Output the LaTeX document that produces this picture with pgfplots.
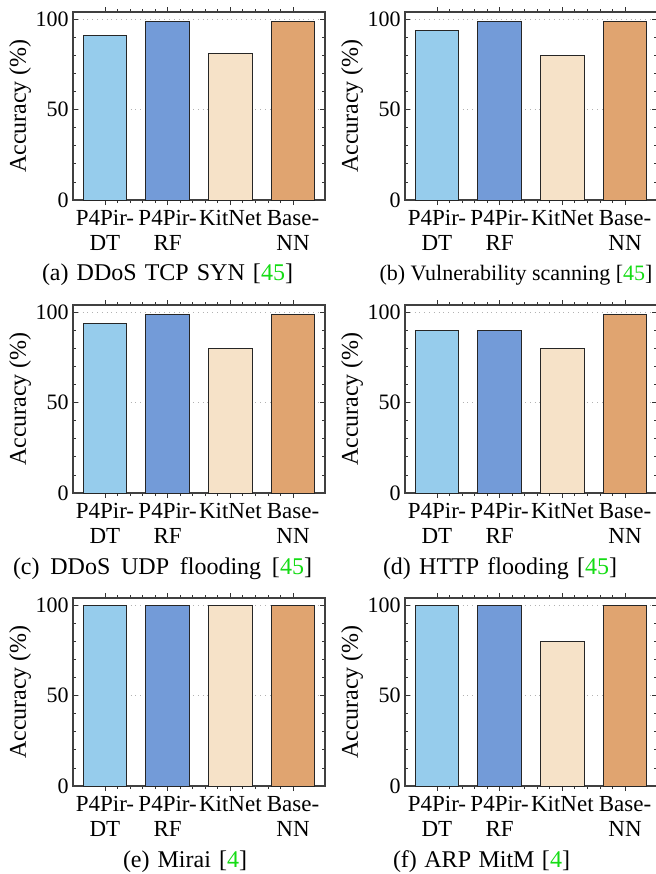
\documentclass[border=0pt]{standalone}
\usepackage{fontspec}
\setmainfont{Liberation Serif}
\usepackage{xcolor}
\usepackage{pgfplots}
\pgfplotsset{compat=1.18}

\definecolor{dtblue}{RGB}{150,204,236}
\definecolor{rfblue}{RGB}{115,155,216}
\definecolor{kitbeige}{RGB}{246,226,200}
\definecolor{nntan}{RGB}{224,164,112}
\definecolor{citegreen}{RGB}{20,220,20}

\pgfplotsset{
  accstyle/.style={
    width=126pt, height=94pt, scale only axis,
    ymin=0, ymax=104, xmin=-0.51, xmax=3.51,
    ytick={0,50,100}, minor y tick num=4,
    xtick={0,1,2,3}, minor x tick num=4,
    xticklabels={{P4Pir-\\DT},{P4Pir-\\RF},KitNet,{Base-\\NN}},
    x tick label style={align=center, font=\fontsize{11.5}{12.5}\selectfont, yshift=1pt},
    y tick label style={font=\fontsize{11}{12}\selectfont, xshift=1.3pt},
    /pgf/number format/assume math mode=true,
    tick align=inside, major tick length=2.5pt, minor tick length=1.5pt,
    tick style={black!80, line width=0.4pt},
    axis line style={black!75, line width=0.6pt},
    ymajorgrids, grid style={gray!60, dotted, line width=0.4pt},
    ylabel={Accuracy (\%)},
    ylabel style={at={(axis description cs:-0.21,0.5)}, anchor=center, font=\fontsize{12}{13}\selectfont},
    ybar, bar width=0.7, bar shift=0pt,
    every axis plot/.append style={draw=black!85, line width=0.5pt},
  }
}

\newcommand{\panel}[6]{%
\begin{axis}[accstyle, at={(#1pt,#2pt)}, anchor=north west]
\addplot[fill=dtblue] coordinates {(0,#3)};
\addplot[fill=rfblue] coordinates {(1,#4)};
\addplot[fill=kitbeige] coordinates {(2,#5)};
\addplot[fill=nntan] coordinates {(3,#6)};
\end{axis}}

\begin{document}
\begin{tikzpicture}
\panel{36.5}{-6}{91}{99}{81}{99}
\panel{202.5}{-6}{94}{99}{80}{99}
\panel{36.5}{-152.5}{94}{99}{80}{99}
\panel{202.5}{-152.5}{90}{90}{80}{99}
\panel{36.5}{-299}{100}{100}{100}{100}
\panel{202.5}{-299}{100}{100}{80}{100}

\begin{scope}[every node/.style={font=\fontsize{12}{13}\selectfont, inner sep=0pt, anchor=base}]
\node at (83.75pt,-140pt) {\makebox[125.5pt][s]{(a) DDoS TCP SYN [\textcolor{citegreen}{45}]}};
\node[font=\fontsize{11}{12}\selectfont] at (258pt,-140pt) {(b) Vulnerability scanning [\textcolor{citegreen}{45}]};
\node at (81.25pt,-287pt) {\makebox[149.5pt][s]{(c) DDoS UDP flooding [\textcolor{citegreen}{45}]}};
\node at (250pt,-287pt) {\makebox[117pt][s]{(d) HTTP flooding [\textcolor{citegreen}{45}]}};
\node at (92.5pt,-433.5pt) {\makebox[62pt][s]{(e) Mirai [\textcolor{citegreen}{4}]}};
\node at (240.75pt,-433.5pt) {\makebox[88.5pt][s]{(f) ARP MitM [\textcolor{citegreen}{4}]}};
\end{scope}

\pgfresetboundingbox
\useasboundingbox (0pt,0pt) rectangle (327.5pt,-437pt);
\end{tikzpicture}
\end{document}
